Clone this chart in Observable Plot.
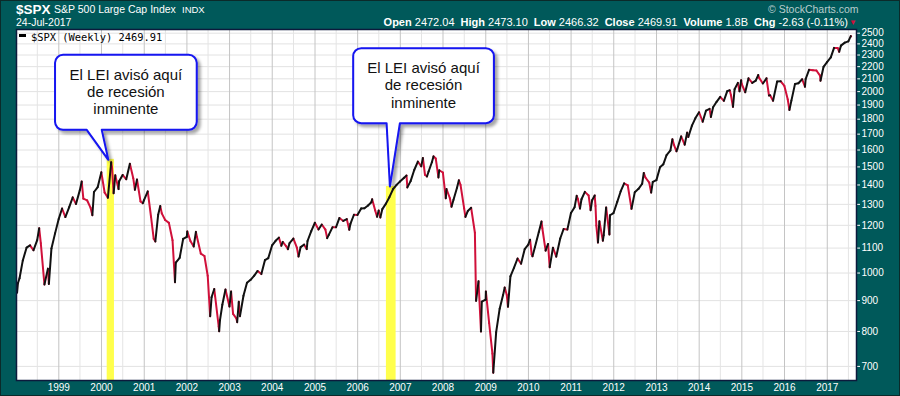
<!DOCTYPE html>
<html><head><meta charset="utf-8">
<script src="https://cdn.jsdelivr.net/npm/d3@7"></script>
<script src="https://cdn.jsdelivr.net/npm/@observablehq/plot@0.6"></script>
<style>
html,body{margin:0;padding:0;background:#00595a;}
#wrap{position:relative;width:900px;height:396px;background:#00595a;overflow:hidden;font-family:Arial,"Liberation Sans",sans-serif;}
.t{position:absolute;white-space:nowrap;line-height:1;color:#fff;}
.g{margin-left:6px;}
#border{position:absolute;left:0;top:0;width:898px;height:394px;border:1px solid #0b2a2a;pointer-events:none;}
</style></head>
<body><div id="wrap">
<div id="chart"></div>
<div class="t" style="left:16px;top:2.5px;font-size:13.5px;font-weight:bold;">$SPX</div>
<div class="t" style="left:54px;top:3.8px;font-size:10.5px;">S&amp;P 500 Large Cap Index</div>
<div class="t" style="left:182px;top:4.6px;font-size:9.5px;">INDX</div>
<div class="t" style="left:16px;top:17.1px;font-size:10.5px;">24-Jul-2017</div>
<div class="t" style="right:52px;top:16.7px;font-size:11px;"><b>Open</b> 2472.04<span class="g"><b>High</b> 2473.10</span><span class="g"><b>Low</b> 2466.32</span><span class="g"><b>Close</b> 2469.91</span><span class="g"><b>Volume</b> 1.8B</span><span class="g"><b>Chg</b> -2.63 (-0.11%)</span></div>
<div class="t" style="left:849px;top:19px;font-size:8px;color:#d0103a;">▼</div>
<div class="t" style="left:768px;top:3.5px;font-size:10.5px;color:#b9cccc;">© StockCharts.com</div>
<div class="t" style="left:19px;top:34px;width:7px;height:3px;background:#000;"></div>
<div class="t" style="left:31px;top:30.5px;font-size:10.4px;line-height:12px;color:#000;font-family:'DejaVu Sans Mono',monospace;">$SPX (Weekly) 2469.91</div>
<div id="border"></div>
</div>
<script>
// ---- data: S&P 500 weekly closes (subset) ----
const dates = [
"1998-01-09","1998-01-16","1998-01-30","1998-02-27","1998-03-31","1998-04-30","1998-05-29","1998-06-30","1998-07-17","1998-07-31","1998-08-31","1998-09-30","1998-10-08","1998-10-30","1998-11-30","1998-12-31",
"1999-01-29","1999-02-26","1999-03-31","1999-04-30","1999-05-28","1999-06-30","1999-07-16","1999-07-30","1999-08-31","1999-09-30","1999-10-15","1999-10-29","1999-11-30","1999-12-31",
"2000-01-28","2000-02-25","2000-03-24","2000-03-31","2000-04-14","2000-04-28","2000-05-26","2000-05-31","2000-06-30","2000-07-31","2000-08-31","2000-09-29","2000-10-13","2000-10-31","2000-11-30","2000-12-20","2000-12-29",
"2001-01-31","2001-02-28","2001-03-23","2001-04-06","2001-04-30","2001-05-18","2001-05-31","2001-06-29","2001-07-31","2001-08-31","2001-09-21","2001-09-28","2001-10-31","2001-11-30","2001-12-31",
"2002-01-04","2002-01-31","2002-02-28","2002-03-19","2002-03-28","2002-04-30","2002-05-31","2002-06-28","2002-07-19","2002-07-31","2002-08-23","2002-08-30","2002-09-30","2002-10-04","2002-10-11","2002-10-31","2002-11-27","2002-12-31",
"2003-01-14","2003-01-31","2003-02-28","2003-03-07","2003-03-21","2003-03-31","2003-04-30","2003-05-30","2003-06-30","2003-07-31","2003-08-29","2003-09-30","2003-10-31","2003-11-28","2003-12-31",
"2004-01-30","2004-02-27","2004-03-19","2004-03-31","2004-04-30","2004-05-14","2004-05-28","2004-06-30","2004-07-30","2004-08-13","2004-08-31","2004-09-30","2004-10-22","2004-10-29","2004-11-30","2004-12-31",
"2005-01-31","2005-02-28","2005-03-31","2005-04-15","2005-04-29","2005-05-31","2005-06-30","2005-07-29","2005-08-31","2005-09-30","2005-10-21","2005-10-31","2005-11-30","2005-12-30",
"2006-01-31","2006-02-28","2006-03-31","2006-04-28","2006-05-05","2006-05-31","2006-06-16","2006-06-30","2006-07-14","2006-07-31","2006-08-31","2006-09-29","2006-10-31","2006-11-30","2006-12-29",
"2007-01-31","2007-02-23","2007-03-02","2007-03-30","2007-04-30","2007-05-31","2007-06-29","2007-07-13","2007-07-31","2007-08-17","2007-08-31","2007-09-28","2007-10-12","2007-10-31","2007-11-23","2007-11-30","2007-12-31",
"2008-01-25","2008-01-31","2008-02-29","2008-03-14","2008-03-31","2008-04-30","2008-05-16","2008-05-30","2008-06-30","2008-07-11","2008-07-31","2008-08-29","2008-09-30","2008-10-10","2008-10-31","2008-11-21","2008-11-28","2008-12-31",
"2009-01-02","2009-01-30","2009-02-27","2009-03-06","2009-03-31","2009-04-30","2009-05-29","2009-06-12","2009-06-30","2009-07-10","2009-07-31","2009-08-31","2009-09-30","2009-10-30","2009-11-30","2009-12-31",
"2010-01-15","2010-01-29","2010-02-05","2010-02-26","2010-03-31","2010-04-23","2010-04-30","2010-05-28","2010-06-18","2010-07-02","2010-07-30","2010-08-27","2010-09-30","2010-10-29","2010-11-30","2010-12-31",
"2011-01-31","2011-02-18","2011-02-28","2011-03-18","2011-03-31","2011-04-29","2011-05-31","2011-06-17","2011-06-30","2011-07-22","2011-07-29","2011-08-05","2011-08-19","2011-08-31","2011-09-30","2011-10-07","2011-10-28","2011-11-25","2011-11-30","2011-12-30",
"2012-01-31","2012-02-29","2012-03-30","2012-04-30","2012-06-01","2012-06-29","2012-07-31","2012-08-31","2012-09-14","2012-09-28","2012-10-31","2012-11-16","2012-11-30","2012-12-31",
"2013-01-31","2013-02-28","2013-03-28","2013-04-30","2013-05-17","2013-05-31","2013-06-21","2013-06-28","2013-07-31","2013-08-30","2013-09-20","2013-09-30","2013-10-31","2013-11-29","2013-12-31",
"2014-01-31","2014-02-28","2014-03-31","2014-04-11","2014-04-30","2014-05-30","2014-06-30","2014-07-31","2014-08-29","2014-09-19","2014-09-30","2014-10-17","2014-10-31","2014-11-28","2014-12-12","2014-12-26","2014-12-31",
"2015-01-30","2015-02-27","2015-03-31","2015-04-30","2015-05-21","2015-05-29","2015-06-30","2015-07-31","2015-08-21","2015-08-31","2015-09-25","2015-10-30","2015-11-30","2015-12-31",
"2016-01-29","2016-02-12","2016-02-29","2016-03-31","2016-04-29","2016-05-31","2016-06-24","2016-06-30","2016-07-29","2016-08-31","2016-09-30","2016-10-31","2016-11-04","2016-11-30","2016-12-30",
"2017-01-31","2017-02-28","2017-03-31","2017-04-13","2017-04-28","2017-05-31","2017-06-30","2017-07-21","2017-07-24"
];
const closes = [
927.69,961.51,980.28,1049.34,1101.75,1111.75,1090.82,1133.84,1186.75,1120.67,957.28,1017.01,959.44,1098.67,1163.63,1229.23,
1279.64,1238.33,1286.37,1335.18,1301.84,1372.71,1418.78,1328.72,1320.41,1282.71,1247.41,1362.93,1388.91,1469.25,
1360.16,1333.36,1527.46,1498.58,1356.56,1452.43,1378.02,1420.60,1454.60,1430.83,1517.68,1436.51,1374.17,1429.40,1314.95,1305.60,1320.28,
1366.01,1239.94,1139.83,1128.43,1249.46,1291.96,1255.82,1224.42,1211.23,1133.58,965.80,1040.94,1059.78,1139.45,1148.08,
1172.51,1130.20,1106.73,1170.29,1147.39,1076.92,1067.14,989.82,847.75,911.62,940.86,916.07,815.28,800.58,835.32,885.76,938.87,879.82,
931.66,855.70,841.15,828.89,895.79,848.18,916.92,963.59,974.50,990.31,1008.01,995.97,1050.71,1058.20,1111.92,
1131.13,1144.94,1109.78,1126.21,1107.30,1095.70,1120.68,1140.84,1101.72,1064.80,1104.24,1114.58,1095.74,1130.20,1173.82,1211.92,
1181.27,1203.60,1180.59,1142.62,1156.85,1191.50,1191.33,1234.18,1220.33,1228.81,1179.59,1207.01,1249.48,1248.29,
1280.08,1280.66,1294.83,1310.61,1325.76,1270.09,1240.00,1270.20,1236.20,1276.66,1303.82,1335.85,1377.94,1400.63,1418.30,
1438.24,1451.19,1387.17,1420.86,1482.37,1530.62,1503.35,1552.50,1455.27,1445.94,1473.99,1526.75,1561.80,1549.38,1440.70,1481.14,1468.36,
1330.61,1378.55,1330.63,1288.14,1322.70,1385.59,1425.35,1400.38,1280.00,1239.49,1267.38,1282.83,1166.36,899.22,968.75,800.03,896.24,903.25,
931.80,825.88,735.09,683.38,797.87,872.81,919.14,946.21,919.32,879.13,987.48,1020.62,1057.08,1036.19,1095.63,1115.10,
1136.03,1073.87,1066.19,1104.49,1169.43,1217.28,1186.69,1089.41,1117.51,1022.58,1101.60,1064.59,1141.20,1183.26,1180.55,1257.64,
1286.12,1343.01,1327.22,1279.20,1325.83,1363.61,1345.20,1271.50,1320.64,1345.02,1292.28,1199.38,1123.53,1218.89,1131.42,1155.46,1285.09,1158.67,1246.96,1257.60,
1312.41,1365.68,1408.47,1397.91,1278.04,1362.16,1379.32,1406.58,1465.77,1440.67,1412.16,1359.88,1416.18,1426.19,
1498.11,1514.68,1569.19,1597.57,1667.47,1630.74,1592.43,1606.28,1685.73,1632.97,1709.91,1681.55,1756.54,1805.81,1848.36,
1782.59,1859.45,1872.34,1815.69,1883.95,1923.57,1960.23,1930.67,2003.37,2010.40,1972.29,1886.76,2018.05,2067.56,2002.33,2088.77,2058.90,
1994.99,2104.50,2067.89,2085.51,2130.82,2107.39,2063.11,2103.84,1970.89,1972.18,1931.34,2079.36,2080.41,2043.94,
1940.24,1864.78,1932.23,2059.74,2065.30,2096.95,2037.41,2098.86,2173.60,2170.95,2168.27,2126.15,2085.18,2198.81,2238.83,
2278.87,2363.64,2362.72,2328.95,2384.20,2411.80,2423.41,2472.54,2469.91
];
const yTickValues = [700,800,900,1000,1100,1200,1300,1400,1500,1600,1700,1800,1900,2000,2100,2200,2300,2400,2500];
const yearLabels = d3.range(1999, 2018);
const bandStarts = ["2000-02-19","2006-09-04"];
const bandEnds = ["2000-04-21","2006-11-26"];
const bandTops = [1544, 1392];
const calloutDates = ["2000-03-04","2006-10-08"];
const calloutValues = [1538, 1389];
const calloutLines = [["El LEI avisó aquí","de recesión","inminente"],["El LEI avisó aquí","de recesión","inminente"]];

// ---- build ----
const D = dates.map(s => new Date(s + "T00:00:00Z"));
const segs = d3.range(1, D.length).map(i => ({x1: D[i-1], y1: closes[i-1], x2: D[i], y2: closes[i], up: closes[i] >= closes[i-1]}));
const yearDates = yearLabels.map(y => new Date(Date.UTC(y, 0, 1)));
const halfDates = d3.range(1998, 2018).map(y => new Date(Date.UTC(y, 6, 1)));
const bands = bandStarts.map((s, i) => ({x1: new Date(s + "T00:00:00Z"), x2: new Date(bandEnds[i] + "T00:00:00Z"), top: bandTops[i]}));
const yDomain = [663.3, 2535.6];

// pixel layout of the callout boxes relative to their tips (style only)
const calloutLayout = [
  {dx: -53.3, dy: -105, w: 141.7, h: 75, b1: -21.6, b2: -6.6},
  {dx: -36.7, dy: -138.4, w: 140.7, h: 75, b1: -3.3, b2: 10}
];

function callouts(index, scales) {
  const g = d3.create("svg:g");
  const f = g.append("defs").append("filter").attr("id", "cshadow")
    .attr("x", "-20%").attr("y", "-20%").attr("width", "140%").attr("height", "140%");
  f.append("feDropShadow").attr("dx", 3).attr("dy", 3).attr("stdDeviation", 1.8)
    .attr("flood-color", "#000").attr("flood-opacity", 0.35);
  calloutDates.forEach((ds, i) => {
    const tx = scales.x(new Date(ds + "T00:00:00Z"));
    const ty = scales.y(calloutValues[i]);
    const o = calloutLayout[i];
    const L = tx + o.dx, T = ty + o.dy, R = L + o.w, B = T + o.h, r = 8;
    const p = d3.path();
    p.moveTo(L + r, T);
    p.lineTo(R - r, T); p.arcTo(R, T, R, T + r, r);
    p.lineTo(R, B - r); p.arcTo(R, B, R - r, B, r);
    p.lineTo(tx + o.b2, B); p.lineTo(tx, ty); p.lineTo(tx + o.b1, B);
    p.lineTo(L + r, B); p.arcTo(L, B, L, B - r, r);
    p.lineTo(L, T + r); p.arcTo(L, T, L + r, T, r);
    p.closePath();
    g.append("path").attr("d", p.toString()).attr("fill", "#fff")
      .attr("stroke", "#1414f0").attr("stroke-width", 2).attr("stroke-linejoin", "round")
      .attr("filter", "url(#cshadow)");
    const cx = (L + R) / 2;
    calloutLines[i].forEach((line, k) => {
      g.append("text").attr("x", cx).attr("y", T + 25 + k * 17.3)
        .attr("text-anchor", "middle").attr("fill", "#111")
        .attr("font-family", "Arial, 'Liberation Sans', sans-serif").attr("font-size", 15)
        .text(line);
    });
  });
  return g.node();
}

const chart = Plot.plot({
  width: 900, height: 396,
  marginLeft: 16, marginRight: 44, marginTop: 29, marginBottom: 16,
  style: {background: "transparent", color: "#fff", fontFamily: "Arial, 'Liberation Sans', sans-serif", fontSize: "10px", overflow: "visible"},
  x: {type: "utc", domain: [new Date("1998-01-04T00:00:00Z"), new Date("2017-09-08T00:00:00Z")], ticks: yearDates, tickFormat: d => String(d.getUTCFullYear()), tickSize: 0, tickPadding: 3, label: null},
  y: {type: "log", domain: yDomain, ticks: yTickValues, tickFormat: d => String(d), tickSize: 3, tickPadding: 2, axis: "right", label: null},
  marks: [
    Plot.frame({fill: "#fff", stroke: "none"}),
    Plot.ruleY(yTickValues, {stroke: "#e2e2e2", strokeWidth: 1}),
    Plot.ruleX(halfDates, {stroke: "#e4e4e4", strokeWidth: 1}),
    Plot.ruleX(yearDates, {stroke: "#c4c4c4", strokeWidth: 1}),
    Plot.rect(bands, {x1: "x1", x2: "x2", y1: yDomain[0], y2: "top", fill: "#ffff4c"}),
    Plot.link(segs.filter(d => !d.up), {x1: "x1", y1: "y1", x2: "x2", y2: "y2", stroke: "#d0103a", strokeWidth: 2, strokeLinecap: "round"}),
    Plot.link(segs.filter(d => d.up), {x1: "x1", y1: "y1", x2: "x2", y2: "y2", stroke: "#111", strokeWidth: 2, strokeLinecap: "round"}),
    callouts,
    Plot.frame({stroke: "#0c1a3c", strokeWidth: 1.5})
  ]
});
document.getElementById("chart").appendChild(chart);
</script>
</body></html>
